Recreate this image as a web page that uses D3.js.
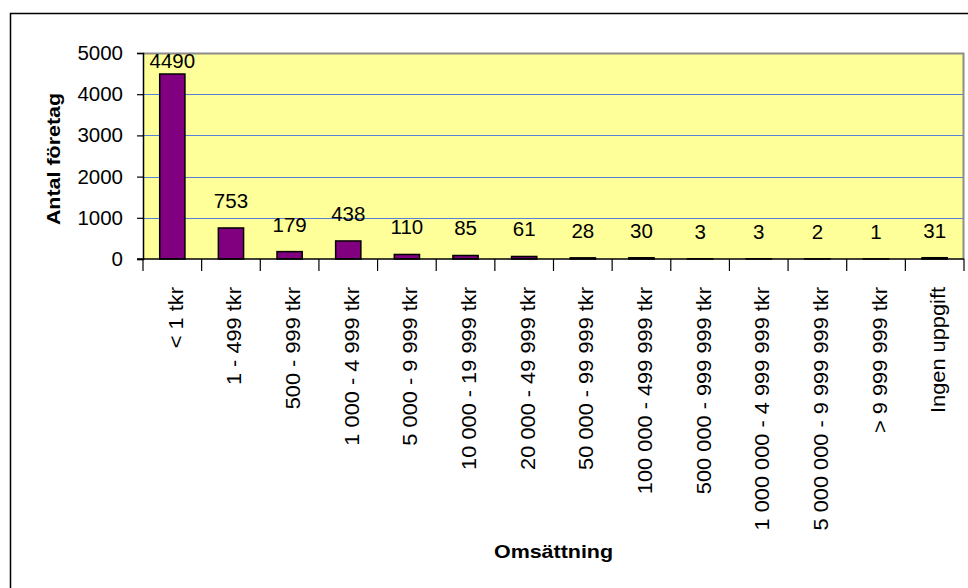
<!DOCTYPE html>
<html>
<head>
<meta charset="utf-8">
<script src="https://cdn.jsdelivr.net/npm/d3@7"></script>
<style>
  html, body { margin: 0; padding: 0; background: #ffffff; }
  svg { display: block; font-family: "Liberation Sans", Arial, sans-serif; }
</style>
</head>
<body>
<svg id="chart" width="968" height="588"></svg>
<script>
const categories = [
  "< 1 tkr", "1 - 499 tkr", "500 - 999 tkr", "1 000 - 4 999 tkr",
  "5 000 - 9 999 tkr", "10 000 - 19 999 tkr", "20 000 - 49 999 tkr",
  "50 000 - 99 999 tkr", "100 000 - 499 999 tkr", "500 000 - 999 999 tkr",
  "1 000 000 - 4 999 999 tkr", "5 000 000 - 9 999 999 tkr",
  "> 9 999 999 tkr", "Ingen uppgift"
];
const values = [4490, 753, 179, 438, 110, 85, 61, 28, 30, 3, 3, 2, 1, 31];
const yTicks = [0, 1000, 2000, 3000, 4000, 5000];
const yTitle = "Antal företag";
const xTitle = "Omsättning";

const svg = d3.select("#chart");
const plot = { left: 143, right: 964, top: 53, bottom: 259 };

// Outer chart border (extends beyond the window on right/bottom)
svg.append("rect")
  .attr("x", 10.5).attr("y", 13.5)
  .attr("width", 1000).attr("height", 1000)
  .attr("fill", "none").attr("stroke", "#000").attr("stroke-width", 1.5);

// Plot area background
svg.append("rect")
  .attr("x", plot.left).attr("y", plot.top)
  .attr("width", plot.right - plot.left).attr("height", plot.bottom - plot.top)
  .attr("fill", "#FFFF99");

const x = d3.scaleBand()
  .domain(categories)
  .range([plot.left, plot.right])
  .paddingInner(0.57)
  .paddingOuter(0.285);

const y = d3.scaleLinear()
  .domain([0, 5000])
  .range([plot.bottom, plot.top]);

// Gridlines
svg.append("g")
  .selectAll("line")
  .data(yTicks.filter(d => d > 0 && d < 5000))
  .join("line")
  .attr("x1", plot.left).attr("x2", plot.right)
  .attr("y1", d => Math.round(y(d)) + 0.5).attr("y2", d => Math.round(y(d)) + 0.5)
  .attr("stroke", "#5a7fd6").attr("stroke-width", 1);

// Plot border (top & right grey)
svg.append("path")
  .attr("d", `M${plot.left},${plot.top + 0.5} H${plot.right - 0.5} V${plot.bottom}`)
  .attr("fill", "none").attr("stroke", "#8c8c8c").attr("stroke-width", 2);

// Bars
svg.append("g")
  .selectAll("rect")
  .data(values)
  .join("rect")
  .attr("x", (d, i) => x(categories[i]))
  .attr("y", d => y(d))
  .attr("width", x.bandwidth())
  .attr("height", d => y(0) - y(d))
  .attr("fill", "#800080")
  .attr("stroke", "#000")
  .attr("stroke-width", 1.5);

// Y axis
const yAxis = d3.axisLeft(y).tickValues(yTicks).tickSize(6).tickPadding(14).tickFormat(d3.format("d"));
const gy = svg.append("g").attr("transform", `translate(${plot.left},0)`).call(yAxis);
gy.select(".domain").attr("stroke", "#000").attr("stroke-width", 1.5);
gy.selectAll(".tick line").attr("stroke", "#000").attr("stroke-width", 1.2);
gy.selectAll(".tick text").attr("font-size", "20.5px").attr("fill", "#000")
  .attr("font-family", "'Liberation Sans', Arial, sans-serif");

// X axis (baseline + category separators)
const step = x.step();
const sepPositions = categories.map(c => x(c) - step * x.paddingInner() / 2).concat([plot.right]);
svg.append("line")
  .attr("x1", plot.left - 6).attr("x2", plot.right)
  .attr("y1", plot.bottom).attr("y2", plot.bottom)
  .attr("stroke", "#000").attr("stroke-width", 1.5);
svg.append("g")
  .selectAll("line")
  .data(sepPositions)
  .join("line")
  .attr("x1", d => d).attr("x2", d => d)
  .attr("y1", plot.bottom).attr("y2", plot.bottom + 12)
  .attr("stroke", "#000").attr("stroke-width", 1.2);

// Category labels (rotated, slightly stretched along the text direction)
svg.append("g")
  .selectAll("text")
  .data(categories)
  .join("text")
  .attr("transform", d => `translate(${x(d) + x.bandwidth() / 2 + 10.5},${plot.bottom + 28}) rotate(-90) scale(1.09,1)`)
  .attr("text-anchor", "end")
  .attr("font-size", "20px")
  .attr("fill", "#000")
  .text(d => d);

// Data labels
svg.append("g")
  .selectAll("text")
  .data(values)
  .join("text")
  .attr("x", (d, i) => x(categories[i]) + x.bandwidth() / 2)
  .attr("y", d => Math.max(y(d) - 20, plot.top + 15))
  .attr("text-anchor", "middle")
  .attr("font-size", "20.5px")
  .attr("fill", "#000")
  .text(d => d);

// Axis titles
svg.append("text")
  .attr("transform", `translate(${59.5},${(plot.top + plot.bottom) / 2 + 3}) rotate(-90) scale(1.16,1)`)
  .attr("text-anchor", "middle")
  .attr("font-size", "18.5px")
  .attr("font-weight", "bold")
  .text(yTitle);

svg.append("text")
  .attr("transform", `translate(${(plot.left + plot.right) / 2},${558}) scale(1.16,1)`)
  .attr("text-anchor", "middle")
  .attr("font-size", "18.5px")
  .attr("font-weight", "bold")
  .text(xTitle);
</script>
</body>
</html>
